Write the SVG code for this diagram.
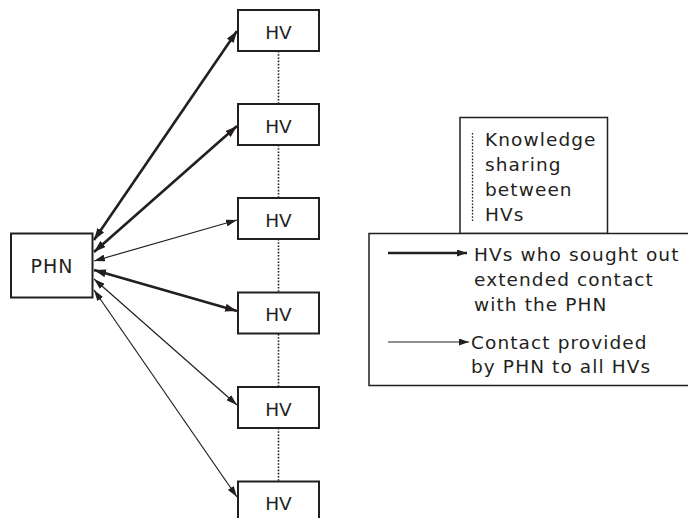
<svg xmlns="http://www.w3.org/2000/svg" width="688" height="518" viewBox="0 0 688 518">
<defs>
<style>
.box{fill:#fff;stroke:#231f20;stroke-width:2}
.lbox{fill:#fff;stroke:#231f20;stroke-width:1.5}
.lbl{font-family:"DejaVu Sans",Verdana,sans-serif;font-size:18.5px;fill:#231f20;text-anchor:middle}
.leg{font-family:"DejaVu Sans",Verdana,sans-serif;font-size:18.5px;fill:#231f20;letter-spacing:1.1px}
.thick{stroke:#231f20;stroke-width:2.6;fill:none;marker-start:url(#hk);marker-end:url(#hk)}
.thin{stroke:#231f20;stroke-width:1.2;fill:none;marker-start:url(#hn);marker-end:url(#hn)}
.dot{stroke:#231f20;stroke-width:1.6;stroke-dasharray:1.6 1.6;fill:none}
</style>
<marker id="hk" viewBox="0 0 12 8" refX="12" refY="4" markerWidth="12" markerHeight="8" markerUnits="userSpaceOnUse" orient="auto-start-reverse"><path d="M0,0 L12,4 L0,8 z" fill="#231f20"/></marker>
<marker id="hn" viewBox="0 0 11 7" refX="11" refY="3.5" markerWidth="11" markerHeight="7" markerUnits="userSpaceOnUse" orient="auto-start-reverse"><path d="M0,0 L11,3.5 L0,7 z" fill="#231f20"/></marker>
<marker id="lk" viewBox="0 0 10 7" refX="10" refY="3.5" markerWidth="10" markerHeight="7" markerUnits="userSpaceOnUse" orient="auto"><path d="M0,0 L10,3.5 L0,7 z" fill="#231f20"/></marker>
</defs>
<g id="dotted">
<line class="dot" x1="278.5" y1="51" x2="278.5" y2="104"/>
<line class="dot" x1="278.5" y1="145" x2="278.5" y2="198"/>
<line class="dot" x1="278.5" y1="239" x2="278.5" y2="292"/>
<line class="dot" x1="278.5" y1="334" x2="278.5" y2="387"/>
<line class="dot" x1="278.5" y1="428" x2="278.5" y2="481"/>
</g>
<g id="connectors">
<line class="thick" x1="94" y1="240" x2="237" y2="31"/>
<line class="thick" x1="94" y1="252" x2="237" y2="126"/>
<line class="thin" x1="94" y1="261" x2="237" y2="220"/>
<line class="thick" x1="94" y1="270" x2="237" y2="311"/>
<line class="thin" x1="94" y1="279" x2="237" y2="405"/>
<line class="thin" x1="94" y1="290" x2="237" y2="497"/>
</g>
<g id="phn"><rect class="box" x="11" y="233.5" width="81.5" height="64"/><text class="lbl" x="52" y="272.5" style="font-size:19px;letter-spacing:1px">PHN</text></g>
<g id="hv1"><rect class="box" x="238" y="10" width="81" height="41"/><text class="lbl" x="278.5" y="38.5">HV</text></g>
<g id="hv2"><rect class="box" x="238" y="104" width="81" height="41"/><text class="lbl" x="278.5" y="132.5">HV</text></g>
<g id="hv3"><rect class="box" x="238" y="198" width="81" height="41"/><text class="lbl" x="278.5" y="226.5">HV</text></g>
<g id="hv4"><rect class="box" x="238" y="292.5" width="81" height="41"/><text class="lbl" x="278.5" y="321">HV</text></g>
<g id="hv5"><rect class="box" x="238" y="387" width="81" height="41"/><text class="lbl" x="278.5" y="415.5">HV</text></g>
<g id="hv6"><rect class="box" x="238" y="481.5" width="81" height="41"/><text class="lbl" x="278.5" y="510">HV</text></g>
<g id="legend">
<rect class="lbox" x="460" y="117.5" width="147.5" height="116"/>
<line class="dot" x1="472.5" y1="133" x2="472.5" y2="222" style="stroke-width:1.3"/>
<text class="leg" x="485" y="145.5">Knowledge</text>
<text class="leg" x="485" y="170.5">sharing</text>
<text class="leg" x="485" y="195.5">between</text>
<text class="leg" x="485" y="220.5">HVs</text>
<rect class="lbox" x="369" y="233.5" width="330" height="152"/>
<line x1="388" y1="253" x2="467" y2="253" stroke="#231f20" stroke-width="2.6" marker-end="url(#lk)"/>
<text class="leg" x="474" y="261">HVs who sought out</text>
<text class="leg" x="474" y="286">extended contact</text>
<text class="leg" x="474" y="311">with the PHN</text>
<line x1="388" y1="342" x2="469" y2="342" stroke="#231f20" stroke-width="1.2" marker-end="url(#lk)"/>
<text class="leg" x="471" y="348.5">Contact provided</text>
<text class="leg" x="471" y="373">by PHN to all HVs</text>
</g>
</svg>
